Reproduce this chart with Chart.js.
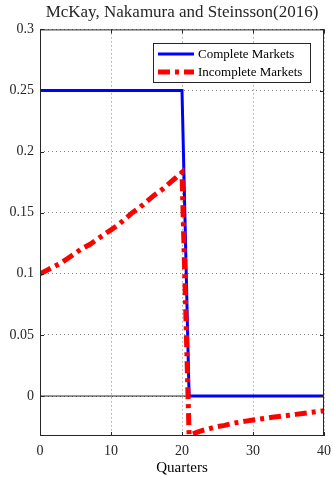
<!DOCTYPE html>
<html>
<head>
<meta charset="utf-8">
<script src="https://cdn.jsdelivr.net/npm/chart.js@4/dist/chart.umd.min.js"></script>
<style>
  body { margin: 0; background: #fff; }
</style>
</head>
<body>
<canvas id="myChart" width="333" height="477"></canvas>
<script>
// data
var titleText = 'McKay, Nakamura and Steinsson(2016)'
var xTitle = 'Quarters'
var seriesNames = ['Complete Markets', 'Incomplete Markets']

var completeQ = [0, 20, 21, 40]
var completeVal = [0.25, 0.25, 0, 0]

var incompleteQ = [0, 1, 2, 3, 4, 5, 6, 7, 8, 9, 10, 11, 12, 13, 14, 15, 16, 17, 18, 19, 20,
  21, 22, 23, 24, 25, 26, 27, 28, 29, 30, 31, 32, 33, 34, 35, 36, 37, 38, 39, 40]
var incompleteVal = [0.100, 0.103, 0.106, 0.109, 0.113, 0.117, 0.121, 0.124, 0.128, 0.132, 0.136,
  0.140, 0.145, 0.150, 0.154, 0.159, 0.164, 0.168, 0.173, 0.178, 0.183,
  -0.032, -0.030, -0.028, -0.0265, -0.025, -0.024, -0.0225, -0.0215, -0.0205, -0.0196,
  -0.0188, -0.018, -0.0172, -0.0165, -0.0158, -0.015, -0.0143, -0.0135, -0.0128, -0.012]

var zeroQ = [0, 40]
var zeroVal = [0, 0]

var xTicks = [0, 10, 20, 30, 40]
var yTicks = [0, 0.05, 0.1, 0.15, 0.2, 0.25, 0.3]
var yMin = -0.0327, yMax = 0.3

function pts(xs, ys) {
  return xs.map(function (x, i) { return { x: x, y: ys[i] } })
}

var serif = 'Liberation Serif'
var redDash = [12, 5, 4, 5]

// box, inward ticks and the legend inside the plot
var boxPlugin = {
  id: 'boxPlugin',
  afterDraw: function (chart) {
    var ctx = chart.ctx, a = chart.chartArea
    var xs = chart.scales.x, ys = chart.scales.y
    ctx.save()
    ctx.strokeStyle = '#262626'
    ctx.lineWidth = 1
    ctx.setLineDash([])
    ctx.strokeRect(a.left + 0.5, a.top + 0.5, a.right - a.left - 1, a.bottom - a.top - 1)
    ctx.beginPath()
    xTicks.forEach(function (v) {
      var px = Math.round(xs.getPixelForValue(v)) + 0.5
      ctx.moveTo(px, a.bottom); ctx.lineTo(px, a.bottom - 4)
      ctx.moveTo(px, a.top); ctx.lineTo(px, a.top + 4)
    })
    yTicks.forEach(function (v) {
      var py = Math.round(ys.getPixelForValue(v)) + 0.5
      ctx.moveTo(a.left, py); ctx.lineTo(a.left + 4, py)
      ctx.moveTo(a.right, py); ctx.lineTo(a.right - 4, py)
    })
    ctx.stroke()

    // legend
    var lx = 153, ly = 43, lw = 157, lh = 39
    ctx.fillStyle = '#fff'
    ctx.fillRect(lx, ly, lw, lh)
    ctx.strokeStyle = '#262626'
    ctx.strokeRect(lx + 0.5, ly + 0.5, lw, lh)
    var ds = chart.data.datasets
    for (var i = 0; i < 2; i++) {
      var yy = ly + 11 + i * 18
      ctx.beginPath()
      ctx.strokeStyle = ds[i].borderColor
      ctx.lineWidth = ds[i].borderWidth
      ctx.setLineDash(ds[i].borderDash || [])
      ctx.moveTo(lx + 5, yy); ctx.lineTo(lx + 41, yy)
      ctx.stroke()
      ctx.setLineDash([])
      ctx.fillStyle = '#000'
      ctx.font = '13px "' + serif + '"'
      ctx.textBaseline = 'middle'
      ctx.fillText(ds[i].label, lx + 45, yy + 1)
    }
    ctx.restore()
  }
}

const ctxc = document.getElementById('myChart')

var chart = new Chart(ctxc, {
  type: 'line',
  data: {
    datasets: [{
      label: seriesNames[0],
      data: pts(completeQ, completeVal),
      borderColor: '#0000ff',
      borderWidth: 3,
      pointRadius: 0,
      order: 2
    }, {
      label: seriesNames[1],
      data: pts(incompleteQ, incompleteVal),
      borderColor: '#ff0000',
      borderWidth: 5,
      borderDash: redDash,
      borderCapStyle: 'butt',
      pointRadius: 0,
      order: 1
    }, {
      label: 'zero',
      data: pts(zeroQ, zeroVal),
      borderColor: '#262626',
      borderWidth: 1,
      pointRadius: 0,
      order: 3
    }]
  },
  options: {
    responsive: false,
    animation: false,
    layout: { padding: { left: 0, right: 9, top: 0, bottom: 0 } },
    plugins: {
      legend: { display: false },
      tooltip: { enabled: false },
      title: {
        display: true,
        fullSize: false,
        text: titleText,
        color: '#262626',
        font: { family: serif, size: 17, weight: 'normal' },
        padding: { top: 2, bottom: 7 }
      }
    },
    scales: {
      x: {
        type: 'linear',
        min: 0,
        max: 40,
        afterBuildTicks: function (s) { s.ticks = xTicks.map(function (v) { return { value: v } }) },
        afterFit: function (s) { s.height = 41; s.paddingRight = 0; s.paddingLeft = 0 },
        ticks: { color: '#262626', font: { family: serif, size: 14 }, padding: 7, maxRotation: 0 },
        grid: { color: 'rgba(0,0,0,0.5)', drawTicks: false },
        border: { display: false, dash: [1, 3] },
        title: { display: true, text: xTitle, color: '#000', font: { family: serif, size: 15 }, padding: { top: 0, bottom: 0 } }
      },
      y: {
        min: yMin,
        max: yMax,
        afterBuildTicks: function (s) { s.ticks = yTicks.map(function (v) { return { value: v } }) },
        afterFit: function (s) { s.width = 40 },
        ticks: {
          color: '#262626', font: { family: serif, size: 14 }, padding: 6,
          callback: function (v) { return String(v) }
        },
        grid: { color: 'rgba(0,0,0,0.5)', drawTicks: false },
        border: { display: false, dash: [1, 3] }
      }
    }
  },
  plugins: [boxPlugin]
});
</script>
</body>
</html>
